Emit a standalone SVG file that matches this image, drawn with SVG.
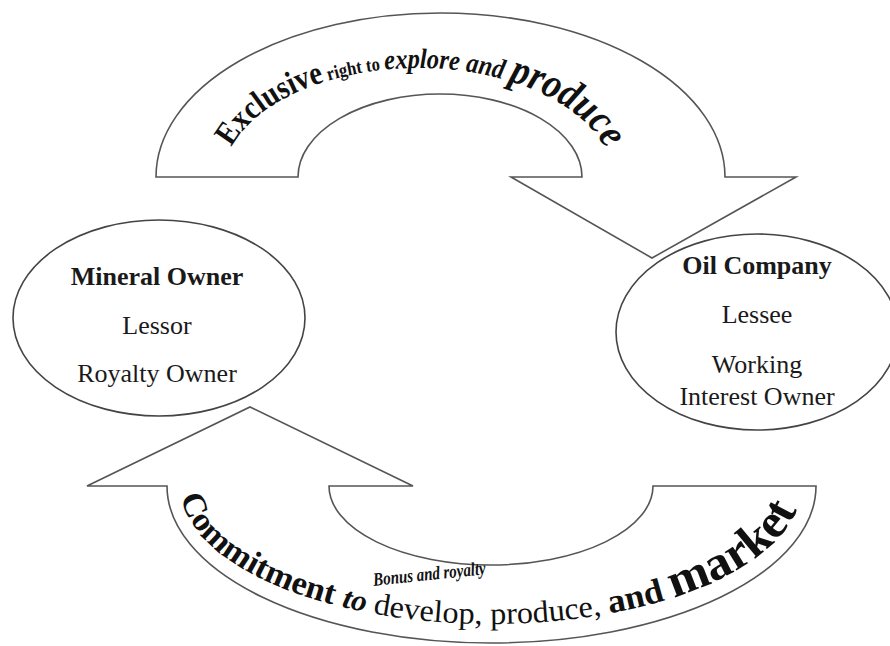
<svg xmlns="http://www.w3.org/2000/svg" width="890" height="646" viewBox="0 0 890 646">
<defs>
<style>
.shape{fill:#fff;stroke:#555;stroke-width:1.6;stroke-linejoin:miter}
.node{fill:#fff;stroke:#444;stroke-width:1.6}
.lbl{font-family:"Liberation Serif","Times New Roman",serif;font-size:26px;fill:#1a1a1a;text-anchor:middle}
.b{font-weight:bold}
.wa{font-family:"Liberation Serif","Times New Roman",serif;font-weight:bold;fill:#111}
</style>
<path id="topText" d="M 223 180 A 195 112 0 0 1 613 180"/>
<path id="botText" d="M 180 485 A 311 139 0 0 0 802 485"/>
</defs>
<rect width="890" height="646" fill="#fff"/>
<g id="connectors">
<g id="top-arrow">
<path class="shape" d="M 156 177 A 284.5 164 0 0 1 725 177 L 796 177 L 652 258 L 511 177 L 582 177 A 142 83 0 0 0 298 177 Z"/>
<text class="wa"><textPath href="#topText" startOffset="34" textLength="425" lengthAdjust="spacingAndGlyphs"><tspan font-size="33">Exclusive</tspan><tspan font-size="19"> right to </tspan><tspan font-size="28" font-style="italic">explore and </tspan><tspan font-size="42" font-style="italic">produce</tspan></textPath></text>
</g>
<g id="bottom-arrow">
<path class="shape" d="M 816 486 A 324.5 157 0 0 1 167 486 L 87 486 L 250 407 L 413 486 L 329 486 A 162 79 0 0 0 653 486 Z"/>
<text class="wa"><textPath href="#botText" startOffset="12" textLength="695" lengthAdjust="spacingAndGlyphs"><tspan font-size="33">Commitment </tspan><tspan font-size="30" font-style="italic">to </tspan><tspan font-size="31" font-weight="normal">develop, produce, </tspan><tspan font-size="34">and </tspan><tspan font-size="48">market</tspan></textPath></text>
<text class="wa" font-style="italic" font-size="19" x="430" y="580" text-anchor="middle" textLength="113" lengthAdjust="spacingAndGlyphs" transform="rotate(-6 430 580)">Bonus and royalty</text>
</g>
</g>
<g id="mineral-owner">
<ellipse class="node" cx="159" cy="318" rx="146" ry="98"/>
<text class="lbl b" x="157" y="285">Mineral Owner</text>
<text class="lbl" x="157" y="334">Lessor</text>
<text class="lbl" x="157" y="382">Royalty Owner</text>
</g>
<g id="oil-company">
<ellipse class="node" cx="757" cy="332" rx="141" ry="98"/>
<text class="lbl b" x="757" y="274">Oil Company</text>
<text class="lbl" x="757" y="323">Lessee</text>
<text class="lbl" x="757" y="373">Working</text>
<text class="lbl" x="757" y="405">Interest Owner</text>
</g>
</svg>
